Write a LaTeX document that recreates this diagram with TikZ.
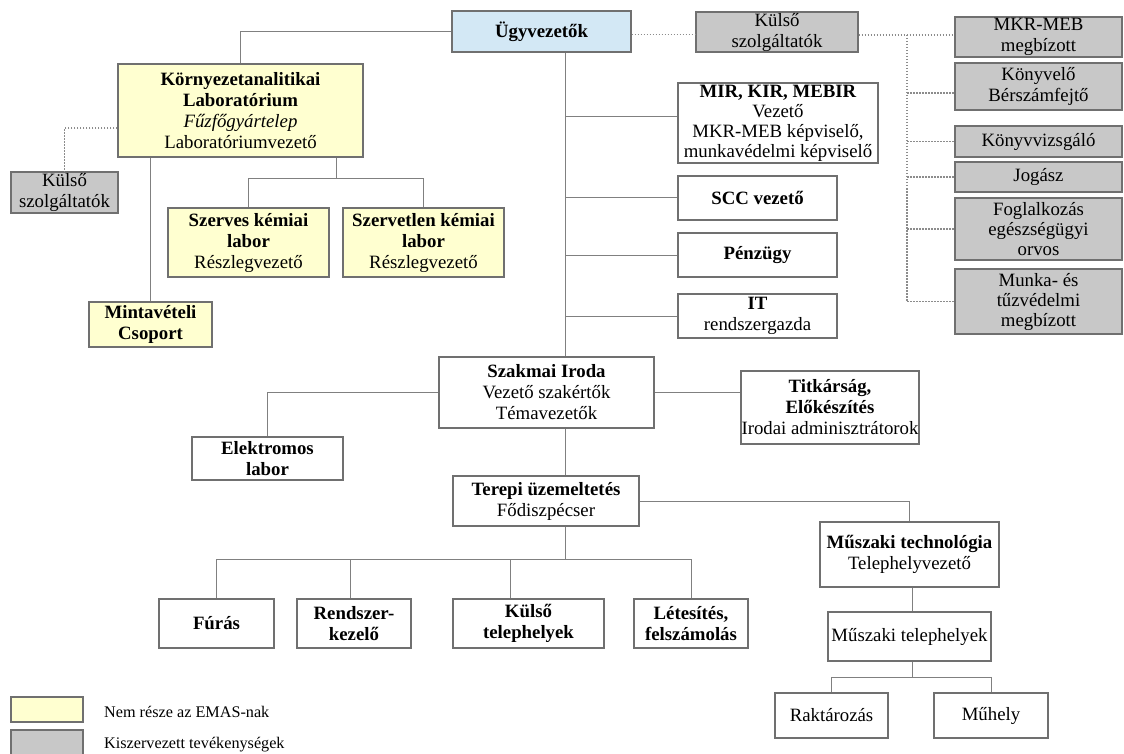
\documentclass[tikz,border=0pt]{standalone}
\usepackage{fontspec}
\setmainfont{Liberation Serif}
\usetikzlibrary{calc}
\definecolor{lineg}{HTML}{808080}
\definecolor{bord}{HTML}{707070}
\definecolor{yel}{HTML}{FFFFD0}
\definecolor{blu}{HTML}{D3E8F5}
\definecolor{gry}{HTML}{C8C8C8}
\definecolor{dotg}{HTML}{8C8C8C}
\begin{document}
\begin{tikzpicture}[x=1pt,y=-1pt,
  box/.style={draw=bord, line width=1.1pt, fill=white, inner sep=0pt, align=center,
              font=\fontsize{18.8}{21}\selectfont, text=black},
  tight/.style={font=\fontsize{18.8}{20}\selectfont},
  ybox/.style={box, fill=yel},
  bbox/.style={box, fill=blu},
  gbox/.style={box, fill=gry},
  wh/.style 2 args={minimum width=#1pt, minimum height=#2pt},
  conn/.style={draw=lineg, line width=1pt},
  dconn/.style={draw=dotg, line width=1.2pt, dash pattern=on 1.5pt off 1.5pt},
  legtext/.style={anchor=west, inner sep=0pt, font=\fontsize{16.2}{18}\selectfont}
]
\useasboundingbox (0,0) rectangle (1124,754);

% top
\node[bbox, wh={179}{41}] (ugy) at (541.5,31.5) {\textbf{Ügyvezetők}};
\node[gbox, wh={162}{40}] (kulso1) at (777,32) {Külső\\szolgáltatók};

% left lab
\node[ybox, wh={245}{93}] (korny) at (240.5,110.5)
  {\textbf{Környezetanalitikai}\\\textbf{Laboratórium}\\\textit{Fűzfőgyártelep}\\Laboratóriumvezető};
\node[gbox, wh={107}{41}] (kulso2) at (64.5,192.5) {Külső\\szolgáltatók};
\node[ybox, wh={123}{45}] (minta) at (150.5,324.5) {\textbf{Mintavételi}\\\textbf{Csoport}};
\node[ybox, wh={161}{69}] (szerves) at (248.5,242.5) {\textbf{Szerves kémiai}\\\textbf{labor}\\Részlegvezető};
\node[ybox, wh={161}{69}] (szervetlen) at (423.5,242.5) {\textbf{Szervetlen kémiai}\\\textbf{labor}\\Részlegvezető};

% staff column
\node[box, tight, wh={200}{80}] (mir) at (778,123)
  {\textbf{MIR, KIR, MEBIR}\\Vezető\\MKR-MEB képviselő,\\munkavédelmi képviselő};
\node[box, wh={159}{44}] (scc) at (757.5,198) {\textbf{SCC vezető}};
\node[box, wh={159}{44}] (penz) at (757.5,255) {\textbf{Pénzügy}};
\node[box, wh={159}{44}] (it) at (757.5,316) {\textbf{IT}\\rendszergazda};

% outsourced column
\node[gbox, wh={167}{40}] (mkr) at (1038.5,37) {MKR-MEB\\megbízott};
\node[gbox, wh={167}{47}] (konyv) at (1038.5,86.5) {Könyvelő\\Bérszámfejtő};
\node[gbox, wh={167}{31}] (vizsg) at (1038.5,141.5) {Könyvvizsgáló};
\node[gbox, wh={167}{30}] (jog) at (1038.5,177) {Jogász};
\node[gbox, tight, wh={167}{62}] (fogl) at (1038.5,229) {Foglalkozás\\egészségügyi\\orvos};
\node[gbox, tight, wh={167}{65}] (munka) at (1038.5,301.5) {Munka- és\\tűzvédelmi\\megbízott};

% middle
\node[box, wh={215}{71}] (szakmai) at (546.5,392.5) {\textbf{Szakmai Iroda}\\Vezető szakértők\\Témavezetők};
\node[box, wh={178}{73}] (titk) at (830,407.5) {\textbf{Titkárság,}\\\textbf{Előkészítés}\\Irodai adminisztrátorok};
\node[box, wh={151}{43}] (elek) at (267.5,458.5) {\textbf{Elektromos}\\\textbf{labor}};
\node[box, wh={186}{50}] (terepi) at (546,501) {\textbf{Terepi üzemeltetés}\\Fődiszpécser};

% bottom row
\node[box, wh={115}{49}] (furas) at (216.5,623.5) {\textbf{Fúrás}};
\node[box, wh={114}{49}] (rendsz) at (354,623.5) {\textbf{Rendszer-}\\\textbf{kezelő}};
\node[box, wh={151}{49}] (kulsotel) at (528.5,623.5) {\textbf{Külső}\\\textbf{telephelyek}};
\node[box, wh={114}{49}] (letes) at (691,623.5) {\textbf{Létesítés,}\\\textbf{felszámolás}};

% technical branch
\node[box, wh={179}{65}] (muszt) at (909.5,554.5) {\textbf{Műszaki technológia}\\Telephelyvezető};
\node[box, wh={163}{49}] (muszh) at (909.5,636.5) {Műszaki telephelyek};
\node[box, wh={113}{45}] (rakt) at (831.5,715.5) {Raktározás};
\node[box, wh={114}{45}] (muhely) at (991,715.5) {Műhely};

% legend
\node[ybox, wh={72}{25}] (legy) at (47,709.5) {};
\node[gbox, wh={72}{26}] (legg) at (47,743) {};
\node[legtext] (legyt) at (104,712) {Nem része az EMAS-nak};
\node[legtext] (leggt) at (104,745) {Kiszervezett tevékenységek};

% coordinates
\coordinate (trunk) at (565,0);
\coordinate (kb) at (336,179);
\coordinate (tb) at (565,559);
\coordinate (mb) at (912,677);
\coordinate (dv) at (907,0);

% solid connectors
\draw[conn] (ugy.west) -| (korny.north);
\draw[conn] (ugy.south -| trunk) -- (szakmai.north -| trunk);
\draw[conn] (szakmai.south -| trunk) -- (terepi.north -| trunk);
\draw[conn] (terepi.south -| trunk) -- (tb);
\draw[conn] ([yshift=6pt]mir.west -| trunk) -- ([yshift=6pt]mir.west);
\draw[conn] (scc.west -| trunk) -- (scc.west);
\draw[conn] (penz.west -| trunk) -- (penz.west);
\draw[conn] (it.west -| trunk) -- (it.west);

\draw[conn] (korny.south -| minta.north) -- (minta.north);
\draw[conn] (korny.south -| kb) -- (kb);
\draw[conn] (szerves.north) |- (kb);
\draw[conn] (szervetlen.north) |- (kb);

\draw[conn] (szakmai.west) -| (elek.north);
\draw[conn] (szakmai.east) -- (szakmai.east -| titk.west);
\draw[conn] (terepi.east) -| (muszt.north);

\draw[conn] (furas.north) |- (tb);
\draw[conn] ([xshift=-4pt]rendsz.north) |- (tb);
\draw[conn] ([xshift=-18.5pt]kulsotel.north) |- (tb);
\draw[conn] (letes.north) |- (tb);

\draw[conn] (muszt.south -| mb) -- (muszh.north -| mb);
\draw[conn] (muszh.south -| mb) -- (mb);
\draw[conn] (rakt.north) |- (mb);
\draw[conn] (muhely.north) |- (mb);

% dotted connectors
\draw[dconn] ([yshift=-3pt]ugy.east) -- ([yshift=-3pt]ugy.east -| kulso1.west);
\draw[dconn] ([yshift=-3pt]kulso1.east) -- ([yshift=-3pt]kulso1.east -| mkr.west);
\draw[dconn] ([yshift=-3pt]kulso1.east -| dv) -- (munka.west -| dv);
\draw[dconn] ([yshift=-6.5pt]konyv.west -| dv) -- ([yshift=-6.5pt]konyv.west);
\draw[dconn] (vizsg.west -| dv) -- (vizsg.west);
\draw[dconn] (jog.west -| dv) -- (jog.west);
\draw[dconn] (fogl.west -| dv) -- (fogl.west);
\draw[dconn] (munka.west -| dv) -- (munka.west);
\draw[dconn] ([yshift=-17.5pt]korny.west) -| (kulso2.north);
\end{tikzpicture}
\end{document}
